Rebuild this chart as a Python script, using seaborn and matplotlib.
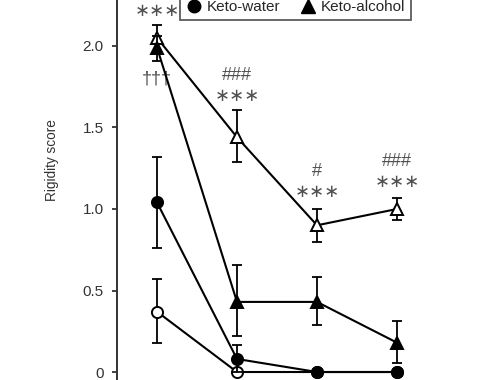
import numpy as np
import pandas as pd
import seaborn as sns
import matplotlib.pyplot as plt
from matplotlib.lines import Line2D

sns.set_style('white')
plt.rcParams['font.family'] = ['Liberation Sans', 'DejaVu Sans']

# Data (4 time points)
timepoints = [0, 1, 2, 3]
open_circle = [0.37, 0.0, 0.0, 0.0]
open_circle_lo = [0.18, 0.0, 0.0, 0.0]
open_circle_hi = [0.57, 0.0, 0.0, 0.0]
keto_water = [1.04, 0.08, 0.0, 0.0]
keto_water_lo = [0.76, 0.0, 0.0, 0.0]
keto_water_hi = [1.32, 0.165, 0.0, 0.0]
keto_alcohol = [1.99, 0.43, 0.43, 0.18]
keto_alcohol_lo = [1.91, 0.22, 0.29, 0.055]
keto_alcohol_hi = [2.06, 0.655, 0.585, 0.315]
open_triangle = [2.05, 1.44, 0.90, 1.00]
open_triangle_lo = [1.97, 1.29, 0.80, 0.93]
open_triangle_hi = [2.13, 1.61, 1.00, 1.07]

# significance marks: (x, y, text)
marks = [(0, 2.21, '∗∗∗'), (0, 1.80, '†††'),
         (1, 1.82, '###'), (1, 1.69, '∗∗∗'),
         (2, 1.23, '#'), (2, 1.10, '∗∗∗'),
         (3, 1.29, '###'), (3, 1.16, '∗∗∗')]

fig = plt.figure(figsize=(5, 3.8), dpi=100)
ax = fig.add_axes([117 / 500, 0, 1 - 117 / 500, 1])

series = [
    (open_circle, open_circle_lo, open_circle_hi, 'o', 'white', 8),
    (keto_water, keto_water_lo, keto_water_hi, 'o', 'black', 8),
    (open_triangle, open_triangle_lo, open_triangle_hi, '^', 'white', 9),
    (keto_alcohol, keto_alcohol_lo, keto_alcohol_hi, '^', 'black', 9),
]
for i, (y, lo, hi, m, fc, ms) in enumerate(series):
    y = np.array(y)
    err = [y - np.array(lo), np.array(hi) - y]
    ax.errorbar(timepoints, y, yerr=err, fmt='none', ecolor='black',
                elinewidth=1.3, capsize=3.5, capthick=1.3, zorder=2 + i)
    sns.lineplot(x=timepoints, y=y, ax=ax, color='black', linewidth=1.5,
                 marker=m, markersize=ms, markerfacecolor=fc,
                 markeredgecolor='black', markeredgewidth=1.4, zorder=3 + i)

for x, y, t in marks:
    ax.text(x, y, t, ha='center', va='center', color='#505050', fontsize=13)

ax.set_xlim(-0.5, 4.2875)
ax.set_ylim(-0.049, 2.282)
ax.set_yticks([0, 0.5, 1.0, 1.5, 2.0])
ax.set_yticklabels(['0', '0.5', '1.0', '1.5', '2.0'], fontsize=11, color='#333333')
ax.set_xticks([])
ax.set_ylabel('Rigidity score', fontsize=9.8, color='#333333')
ax.yaxis.set_label_coords((59 - 117) / 383, 1 - 160 / 380)
ax.tick_params(axis='y', direction='out', length=3.5, width=1.3, color='#333333',
               left=True, pad=6)
for s in ['top', 'right', 'bottom']:
    ax.spines[s].set_visible(False)
ax.spines['left'].set_color('#333333')
ax.spines['left'].set_linewidth(1.4)

handles = [Line2D([], [], marker='o', color='black', linestyle='none', markersize=9),
           Line2D([], [], marker='^', color='black', linestyle='none', markersize=10)]
leg = fig.legend(handles, ['Keto-water', 'Keto-alcohol'], ncol=2,
                 loc='lower left', bbox_to_anchor=(180 / 500, 1 - 20 / 380),
                 fontsize=11, frameon=True, fancybox=False, borderpad=0.4,
                 borderaxespad=0, handletextpad=0.35, columnspacing=1.3,
                 handlelength=1.0)
leg.get_frame().set_edgecolor('#333333')
leg.get_frame().set_linewidth(1.3)

fig.savefig('out.png', dpi=100)
